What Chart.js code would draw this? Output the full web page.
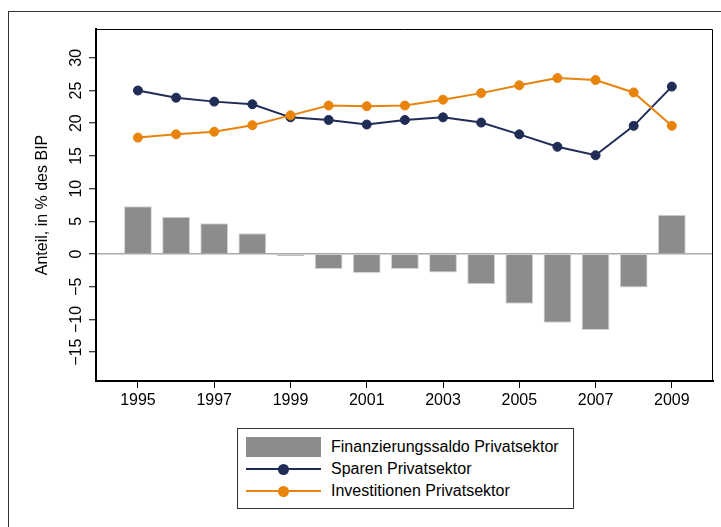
<!DOCTYPE html>
<html>
<head>
<meta charset="utf-8">
<script src="https://cdn.jsdelivr.net/npm/chart.js@4/dist/chart.umd.min.js"></script>
<style>
  body { margin: 0; background: #fff; font-family: "Liberation Sans", Arial, sans-serif; }
  #wrap { position: relative; width: 721px; height: 527px; overflow: hidden; }
  #frame { position: absolute; left: 8px; top: 11px; width: 800px; height: 600px; border: 1px solid #333; }
  canvas { position: absolute; left: 0; top: 0; }
  #legend { position: absolute; left: 237px; top: 428px; width: 335px; height: 79px; border: 1px solid #333; background: #fff; }
  .row { position: absolute; left: 0; height: 22px; width: 100%; }
  .sw { position: absolute; left: 8px; width: 75px; height: 22px; }
  .txt { position: absolute; left: 93px; top: 1px; font-size: 16px; line-height: 20px; color: #000; white-space: nowrap; }
  .rect { position: absolute; left: 0; top: 1px; width: 75px; height: 20px; background: #8c8c8c; }
  .ln { position: absolute; left: 0; top: 10px; width: 75px; height: 2px; }
  .dot { position: absolute; left: 32px; top: 6px; width: 11px; height: 11px; border-radius: 50%; }
</style>
</head>
<body>
<div id="wrap">
  <div id="frame"></div>
  <canvas id="chart" width="721" height="527"></canvas>
  <div id="legend">
    <div class="row" style="top:7px"><div class="sw"><div class="rect"></div></div><div class="txt">Finanzierungssaldo Privatsektor</div></div>
    <div class="row" style="top:29px"><div class="sw"><div class="ln" style="background:#1f2c56"></div><div class="dot" style="background:#1f2c56"></div></div><div class="txt">Sparen Privatsektor</div></div>
    <div class="row" style="top:51px"><div class="sw"><div class="ln" style="background:#e8830c"></div><div class="dot" style="background:#e8830c"></div></div><div class="txt">Investitionen Privatsektor</div></div>
  </div>
</div>
<script>
'use strict';

const years = [1995, 1996, 1997, 1998, 1999, 2000, 2001, 2002, 2003, 2004, 2005, 2006, 2007, 2008, 2009];
const saldo = [7.3, 5.7, 4.7, 3.2, -0.3, -2.3, -2.9, -2.3, -2.8, -4.6, -7.6, -10.5, -11.6, -5.1, 6.0];
const sparen = [25.0, 23.9, 23.3, 22.9, 20.9, 20.5, 19.8, 20.5, 20.9, 20.1, 18.3, 16.4, 15.1, 19.6, 25.6];
const invest = [17.8, 18.3, 18.7, 19.7, 21.2, 22.7, 22.6, 22.7, 23.6, 24.6, 25.8, 26.9, 26.6, 24.7, 19.6];
const xTicks = [1995, 1997, 1999, 2001, 2003, 2005, 2007, 2009];
const yTicks = [-15, -10, -5, 0, 5, 10, 15, 20, 25, 30];

const navy = '#1f2c56';
const orange = '#e8830c';

function pts(vals) {
  return years.map(function(y, i) { return {x: y, y: vals[i]}; });
}

// top and right sides of the plot box
const boxPlugin = {
  id: 'box',
  afterDraw: function(chart) {
    const a = chart.chartArea;
    const ctx = chart.ctx;
    ctx.save();
    ctx.strokeStyle = '#000';
    ctx.lineWidth = 1;
    ctx.beginPath();
    ctx.moveTo(a.left, a.top + 0.5);
    ctx.lineTo(a.right - 0.5, a.top + 0.5);
    ctx.lineTo(a.right - 0.5, a.bottom);
    ctx.stroke();
    ctx.restore();
  }
};

Chart.defaults.font.family = '"Liberation Sans", Arial, sans-serif';
Chart.defaults.font.size = 16;
Chart.defaults.color = '#000';

new Chart(document.getElementById('chart'), {
  type: 'bar',
  data: {
    datasets: [
      {
        type: 'line',
        label: 'Investitionen Privatsektor',
        data: pts(invest),
        borderColor: orange,
        backgroundColor: orange,
        borderWidth: 2,
        pointRadius: 4.5,
        pointBorderWidth: 1,
        order: 1
      },
      {
        type: 'line',
        label: 'Sparen Privatsektor',
        data: pts(sparen),
        borderColor: navy,
        backgroundColor: navy,
        borderWidth: 2,
        pointRadius: 4.5,
        pointBorderWidth: 1,
        order: 2
      },
      {
        label: 'Finanzierungssaldo Privatsektor',
        data: pts(saldo),
        backgroundColor: '#8c8c8c',
        borderColor: '#d4d4d4',
        borderWidth: 1,
        barPercentage: 0.73,
        categoryPercentage: 1,
        order: 3
      }
    ]
  },
  options: {
    responsive: false,
    animation: false,
    layout: { padding: { left: 0, top: 29, right: 8, bottom: 116 } },
    plugins: { legend: { display: false }, tooltip: { enabled: false } },
    scales: {
      x: {
        type: 'linear',
        offset: false,
        min: 1993.9,
        max: 2010.08,
        afterBuildTicks: function(scale) {
          scale.ticks = xTicks.map(function(v) { return {value: v}; });
        },
        afterFit: function(scale) { scale.height = 30; },
        grid: { offset: false, drawOnChartArea: false, tickColor: '#000', tickLength: 7, tickWidth: 1 },
        border: { display: true, color: '#000', width: 2 },
        ticks: { padding: 3, maxRotation: 0, autoSkip: false, callback: function(v) { return String(v); } }
      },
      y: {
        type: 'linear',
        min: -19.4,
        max: 34.4,
        afterBuildTicks: function(scale) {
          scale.ticks = yTicks.map(function(v) { return {value: v}; });
        },
        afterFit: function(scale) { scale.width = 96; },
        grid: {
          color: function(c) { return c.tick && c.tick.value === 0 ? '#aaaaaa' : 'rgba(0,0,0,0)'; },
          lineWidth: 1.5,
          tickColor: '#000',
          tickLength: 7,
          tickWidth: 1
        },
        border: { display: true, color: '#000', width: 2 },
        ticks: {
          minRotation: 90,
          maxRotation: 90,
          crossAlign: 'center',
          padding: -1,
          autoSkip: false,
          callback: function(v) { return String(v).replace('-', '\u2212'); }
        },
        title: {
          display: true,
          text: 'Anteil, in % des BIP',
          padding: { top: 33, bottom: 0 },
          font: { size: 16 }
        }
      }
    }
  },
  plugins: [boxPlugin]
});
</script>
</body>
</html>
